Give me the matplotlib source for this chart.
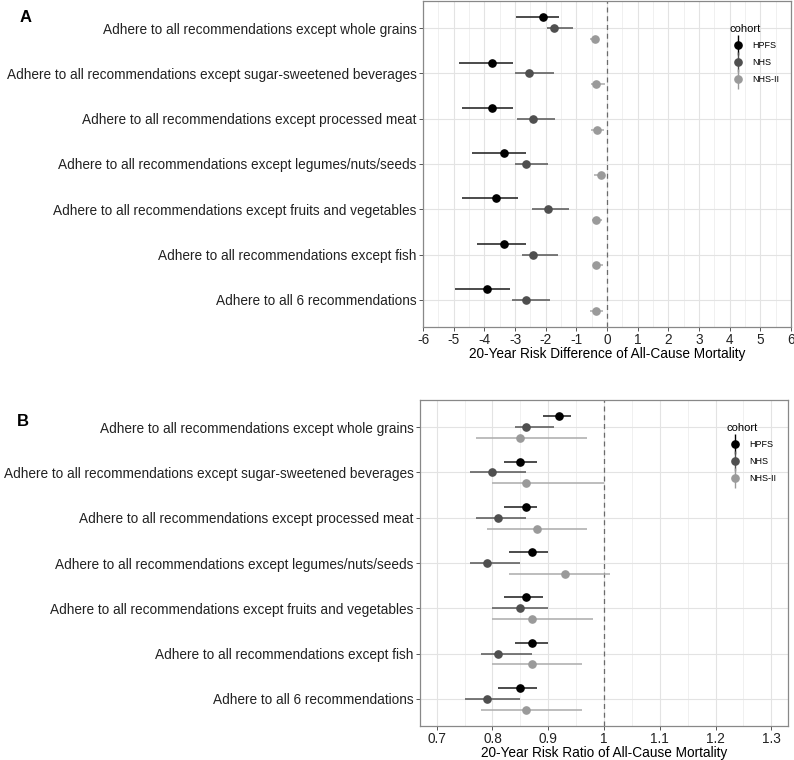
import numpy as np
import matplotlib
matplotlib.use("Agg")
import matplotlib.pyplot as plt
from matplotlib.ticker import MultipleLocator
from matplotlib.legend_handler import HandlerErrorbar

plt.rcParams['font.family'] = ['Liberation Sans', 'DejaVu Sans']

# categories, top to bottom
labels = [
    "Adhere to all recommendations except whole grains",
    "Adhere to all recommendations except sugar-sweetened beverages",
    "Adhere to all recommendations except processed meat",
    "Adhere to all recommendations except legumes/nuts/seeds",
    "Adhere to all recommendations except fruits and vegetables",
    "Adhere to all recommendations except fish",
    "Adhere to all 6 recommendations",
]
cohorts = ["HPFS", "NHS", "NHS-II"]

# panel A: 20-year risk difference (estimate, lower, upper)
rd_hpfs = [-2.09, -3.75, -3.74, -3.36, -3.61, -3.36, -3.90]
rd_hpfs_lo = [-2.96, -4.81, -4.74, -4.39, -4.74, -4.24, -4.95]
rd_hpfs_hi = [-1.58, -3.08, -3.07, -2.65, -2.90, -2.65, -3.16]
rd_nhs = [-1.72, -2.54, -2.40, -2.63, -1.94, -2.42, -2.64]
rd_nhs_lo = [-1.97, -3.00, -2.93, -3.00, -2.46, -2.78, -3.10]
rd_nhs_hi = [-1.10, -1.74, -1.68, -1.91, -1.23, -1.60, -1.85]
rd_nhs2 = [-0.39, -0.37, -0.32, -0.20, -0.35, -0.35, -0.35]
rd_nhs2_lo = [-0.57, -0.52, -0.52, -0.41, -0.49, -0.47, -0.57]
rd_nhs2_hi = [-0.25, -0.07, -0.11, -0.09, -0.16, -0.14, -0.12]

# panel B: 20-year risk ratio
rr_hpfs = [0.92, 0.85, 0.86, 0.87, 0.86, 0.87, 0.85]
rr_hpfs_lo = [0.89, 0.82, 0.82, 0.83, 0.82, 0.84, 0.81]
rr_hpfs_hi = [0.94, 0.88, 0.88, 0.90, 0.89, 0.90, 0.88]
rr_nhs = [0.86, 0.80, 0.81, 0.79, 0.85, 0.81, 0.79]
rr_nhs_lo = [0.84, 0.76, 0.77, 0.76, 0.80, 0.78, 0.75]
rr_nhs_hi = [0.91, 0.86, 0.86, 0.85, 0.90, 0.87, 0.85]
rr_nhs2 = [0.85, 0.86, 0.88, 0.93, 0.87, 0.87, 0.86]
rr_nhs2_lo = [0.77, 0.80, 0.79, 0.83, 0.80, 0.80, 0.78]
rr_nhs2_hi = [0.97, 1.00, 0.97, 1.01, 0.98, 0.96, 0.96]

colors = ["#000000", "#4f4f4f", "#9a9a9a"]
line_colors = ["#1a1a1a", "#555555", "#ababab"]
offsets = [0.24, 0.0, -0.24]
ypos = np.arange(len(labels))[::-1]


def panel(ax, series, ref, xlim, minor, xlabel, ticklabels):
    for i, (est, lo, hi) in enumerate(series):
        est, lo, hi = map(np.array, (est, lo, hi))
        y = ypos + offsets[i]
        ax.hlines(y, lo, hi, color=line_colors[i], lw=1.1, zorder=3)
        ax.plot(est, y, 'o', color=colors[i], ms=5.2, zorder=4)
    ax.axvline(ref, color="#6b6b6b", ls=(0, (4, 3)), lw=0.9, zorder=2)
    ax.set_xlim(*xlim)
    ax.set_ylim(-0.6, len(labels) - 0.4)
    ax.xaxis.set_minor_locator(MultipleLocator(minor))
    ax.set_xticks(ticklabels[0])
    ax.set_xticklabels(ticklabels[1])
    ax.set_yticks(ypos)
    ax.set_yticklabels(labels)
    ax.grid(which='major', color='#e3e3e3', lw=0.8, zorder=0)
    ax.grid(which='minor', axis='x', color='#eeeeee', lw=0.6, zorder=0)
    ax.set_axisbelow(True)
    ax.tick_params(axis='both', which='major', length=3, width=0.7,
                   color='#555555', labelcolor='#222222', labelsize=9.85, pad=1.5)
    ax.tick_params(axis='x', which='major', pad=1)
    ax.tick_params(axis='both', which='minor', length=0)
    for s in ax.spines.values():
        s.set_color('#888888')
        s.set_linewidth(0.9)
    ax.set_xlabel(xlabel, fontsize=9.85, labelpad=0)
    # legend with vertical pointrange keys
    handles = []
    for i, c in enumerate(cohorts):
        h = ax.errorbar([np.nan], [np.nan], yerr=[1], fmt='o', color=colors[i],
                        ms=5.2, elinewidth=1.0, label=c)
        handles.append(h)
    leg = ax.legend(handles=handles, title="cohort", loc='upper left',
                    bbox_to_anchor=(0.81, 0.955), frameon=False, fontsize=6.5,
                    title_fontsize=8, handlelength=2.0, handletextpad=0.6,
                    labelspacing=0.85,
                    handler_map={type(handles[0]): HandlerErrorbar(xerr_size=0.4, yerr_size=1.1)})
    leg._legend_box.align = "left"


fig = plt.figure(figsize=(7.94, 7.6), dpi=100)
axA = fig.add_axes([423 / 794, 1 - 327 / 760, 368 / 794, 326 / 760])
axB = fig.add_axes([420 / 794, 1 - 726 / 760, 368 / 794, 326 / 760])

ticksA = (np.arange(-6, 7, 1), [str(v) for v in range(-6, 7)])
panel(axA, [(rd_hpfs, rd_hpfs_lo, rd_hpfs_hi), (rd_nhs, rd_nhs_lo, rd_nhs_hi),
            (rd_nhs2, rd_nhs2_lo, rd_nhs2_hi)], 0, (-6, 6), 0.5,
      "20-Year Risk Difference of All-Cause Mortality", ticksA)

rr_ticks = [0.7, 0.8, 0.9, 1.0, 1.1, 1.2, 1.3]
ticksB = (rr_ticks, ["0.7", "0.8", "0.9", "1", "1.1", "1.2", "1.3"])
panel(axB, [(rr_hpfs, rr_hpfs_lo, rr_hpfs_hi), (rr_nhs, rr_nhs_lo, rr_nhs_hi),
            (rr_nhs2, rr_nhs2_lo, rr_nhs2_hi)], 1.0, (0.67, 1.33), 0.05,
      "20-Year Risk Ratio of All-Cause Mortality", ticksB)

fig.text(20 / 794, 1 - 18 / 760, "A", fontsize=12, fontweight='bold', va='center')
fig.text(17 / 794, 1 - 422 / 760, "B", fontsize=12, fontweight='bold', va='center')

fig.savefig("out.png", dpi=100)
